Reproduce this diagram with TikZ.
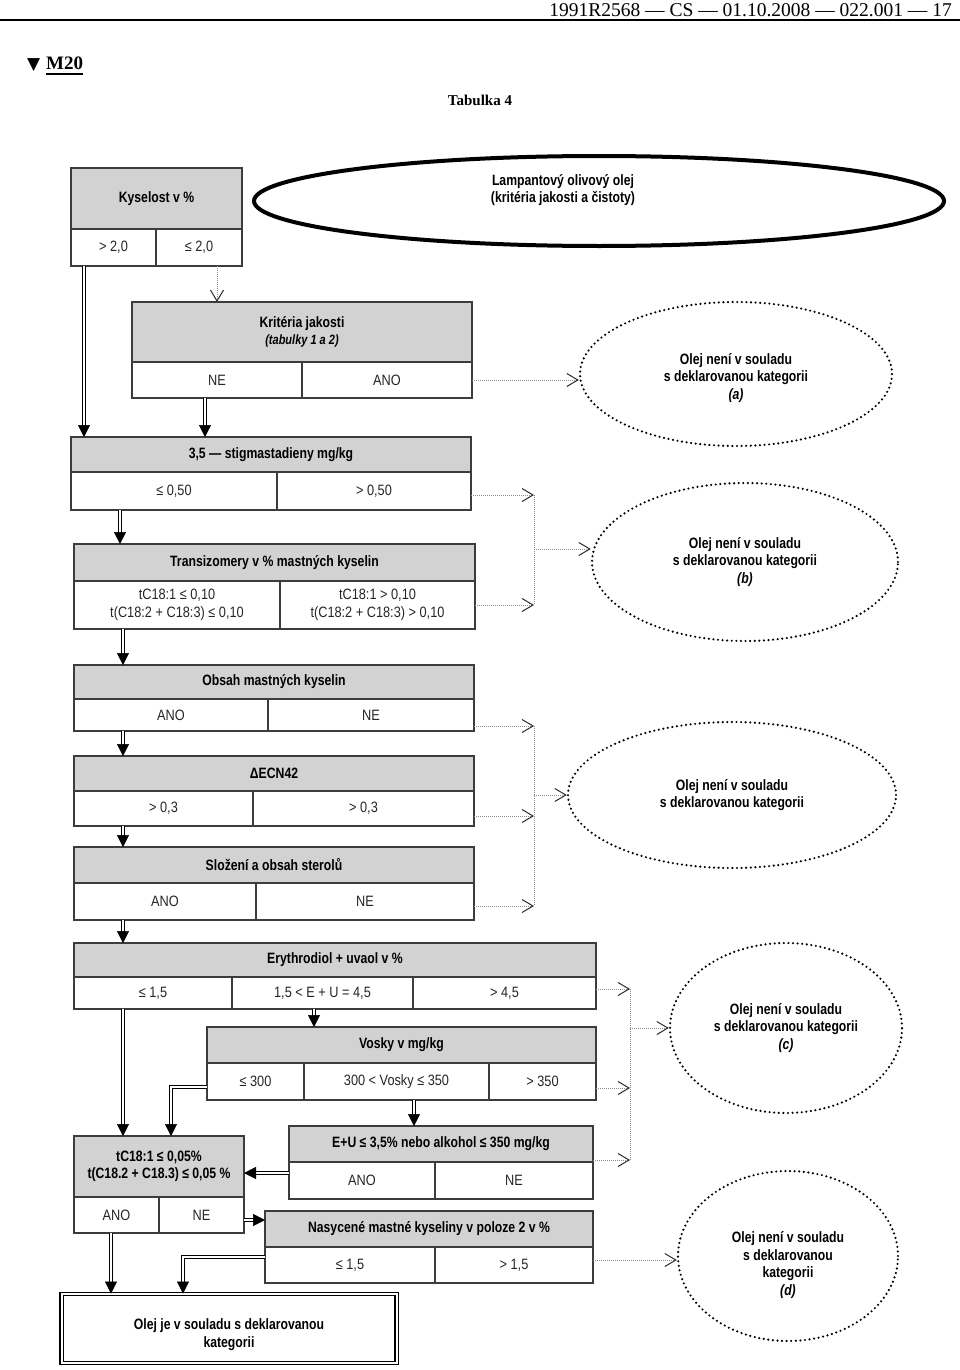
\documentclass[tikz,border=0pt]{standalone}
\usepackage{fontspec}
\setmainfont{Liberation Sans}[FakeStretch=0.85, BoldFeatures={FakeStretch=0.815}, BoldItalicFeatures={FakeStretch=0.815}]
\newfontfamily\serifhd{Liberation Serif}
\newfontfamily\symf{DejaVu Sans}
\usetikzlibrary{shapes.geometric,arrows.meta,calc}
\definecolor{hgray}{RGB}{210,210,210}
\definecolor{boxc}{RGB}{60,60,60}
\definecolor{dotcol}{RGB}{140,140,140}
\definecolor{tipc}{RGB}{45,45,45}
\tikzset{
 hdr/.style={draw=boxc, fill=hgray, line width=1.3pt, inner sep=0pt, outer sep=0pt, anchor=north west, font=\fontsize{15}{17.5}\selectfont\bfseries, align=center},
 cell/.style={draw=boxc, fill=white, line width=1.3pt, inner sep=0pt, outer sep=0pt, anchor=north west, font=\fontsize{15}{17.5}\selectfont, align=center, text=black!85},
 dbl/.style={draw=black, double=white, double distance=1.8pt, line width=1.2pt, shorten >=11pt},
 dtip/.style={-{Triangle[length=12pt,width=12pt]}, line width=0.5pt, draw=black},
 dotarr/.style={draw=dotcol, line width=1pt, densely dotted, -{Straight Barb[length=11pt,width=13pt,line width=1pt,color=tipc]}},
 dotl/.style={draw=dotcol, line width=1pt, densely dotted},
 oval/.style={ellipse, draw=black, line width=2.4pt, dash pattern=on 0pt off 4.6pt, line cap=round, inner sep=0pt, font=\fontsize{15}{17.5}\selectfont\bfseries, align=center},
 ovaltext/.style={font=\fontsize{15}{17.5}\selectfont\bfseries, align=center},
}
\newcommand\dnarr[3]{\draw[dbl] (#1 -| #3) -- (#2 -| #3); \draw[dtip] ([yshift=2pt]#2 -| #3) -- (#2 -| #3);}
\begin{document}
\begin{tikzpicture}[x=1pt,y=-1pt]
\useasboundingbox (0,0) rectangle (960,1370);
\fill[white] (0,0) rectangle (960,1370);

% page header
\node[anchor=base east, font=\serifhd\fontsize{19.5}{22}\selectfont, inner sep=0pt] (pghead) at (952,17) {1991R2568 — CS — 01.10.2008 — 022.001 — 17};
\draw[line width=1.5pt] (0,20) -- (960,20);
\node[anchor=base west, font=\symf\fontsize{17}{19}\selectfont, inner sep=0pt] (tri) at (27,70) {▼};
\node[anchor=base west, font=\serifhd\bfseries\fontsize{19}{22}\selectfont, inner sep=0pt] (m20) at (46,70) {M20};
\draw[line width=1.6pt] ([yshift=-4pt]m20.base west) -- ([yshift=-4pt]m20.base east);
\node[font=\serifhd\bfseries\fontsize{15}{18}\selectfont] (tab) at (480,100) {Tabulka 4};

% coordinates
\coordinate (x84) at (84,0);
\coordinate (x205) at (205,0);
\coordinate (x217) at (217,0);
\coordinate (x120) at (120,0);
\coordinate (x123) at (123,0);
\coordinate (x314) at (314,0);
\coordinate (x414) at (414,0);
\coordinate (x111) at (111,0);
\coordinate (x171) at (171,0);
\coordinate (x183) at (183,0);
\coordinate (j1) at (534,0);
\coordinate (j2) at (630,0);

% top
\node[hdr, minimum width=171pt, minimum height=61pt] (b1h) at (71,168) {Kyselost v \%};
\node[cell, minimum width=85pt, minimum height=37pt] (b1a) at (71,229) {> 2,0};
\node[cell, minimum width=86pt, minimum height=37pt] (b1b) at (156,229) {≤ 2,0};

\node[ellipse, draw=black, line width=4pt, minimum width=690pt, minimum height=90pt, inner sep=0pt] (lamp) at (599,201) {};
\node[font=\fontsize{15}{17}\selectfont\bfseries, align=center] (lampt) at (563,190) {Lampantový olivový olej\\(kritéria jakosti a čistoty)};

\node[hdr, minimum width=340pt, minimum height=60pt] (b2h) at (132,302) {Kritéria jakosti\\{\itshape\fontsize{13.5}{16}\selectfont (tabulky 1 a 2)}};
\node[cell, minimum width=170pt, minimum height=36pt] (b2a) at (132,362) {NE};
\node[cell, minimum width=170pt, minimum height=36pt] (b2b) at (302,362) {ANO};

\node[oval, minimum width=312pt, minimum height=144pt, label={[ovaltext, yshift=-4pt]center:{Olej není v souladu\\s deklarovanou kategorii\\{\itshape (a)}}}] (ela) at (736,374) {};

\node[hdr, minimum width=400pt, minimum height=35pt] (b3h) at (71,437) {3,5 — stigmastadieny mg/kg};
\node[cell, minimum width=206pt, minimum height=38pt] (b3a) at (71,472) {≤ 0,50};
\node[cell, minimum width=194pt, minimum height=38pt] (b3b) at (277,472) {> 0,50};

\node[hdr, minimum width=401pt, minimum height=37pt] (b4h) at (74,544) {Transizomery v \% mastných kyselin};
\node[cell, minimum width=206pt, minimum height=48pt] (b4a) at (74,581) {tC18:1 ≤ 0,10\\t(C18:2 + C18:3) ≤ 0,10};
\node[cell, minimum width=195pt, minimum height=48pt] (b4b) at (280,581) {tC18:1 > 0,10\\t(C18:2 + C18:3) > 0,10};

\node[oval, minimum width=306pt, minimum height=158pt] (elb) at (745,562) {Olej není v souladu\\s deklarovanou kategorii\\{\itshape (b)}};

\node[hdr, minimum width=400pt, minimum height=34pt] (b5h) at (74,665) {Obsah mastných kyselin};
\node[cell, minimum width=194pt, minimum height=32pt] (b5a) at (74,699) {ANO};
\node[cell, minimum width=206pt, minimum height=32pt] (b5b) at (268,699) {NE};

\node[hdr, minimum width=400pt, minimum height=35pt] (b6h) at (74,756) {ΔECN42};
\node[cell, minimum width=179pt, minimum height=35pt] (b6a) at (74,791) {> 0,3};
\node[cell, minimum width=221pt, minimum height=35pt] (b6b) at (253,791) {> 0,3};

\node[hdr, minimum width=400pt, minimum height=36pt] (b7h) at (74,847) {Složení a obsah sterolů};
\node[cell, minimum width=182pt, minimum height=37pt] (b7a) at (74,883) {ANO};
\node[cell, minimum width=218pt, minimum height=37pt] (b7b) at (256,883) {NE};

\node[oval, minimum width=328pt, minimum height=146pt] (elx) at (732,795) {Olej není v souladu\\s deklarovanou kategorii};

\node[hdr, minimum width=522pt, minimum height=34pt] (b8h) at (74,943) {Erythrodiol + uvaol v \%};
\node[cell, minimum width=158pt, minimum height=32pt] (b8a) at (74,977) {≤ 1,5};
\node[cell, minimum width=181pt, minimum height=32pt] (b8b) at (232,977) {1,5 < E + U = 4,5};
\node[cell, minimum width=183pt, minimum height=32pt] (b8c) at (413,977) {> 4,5};

\node[hdr, minimum width=389pt, minimum height=36pt] (b9h) at (207,1027) {Vosky v mg/kg};
\node[cell, minimum width=97pt, minimum height=37pt] (b9a) at (207,1063) {≤ 300};
\node[cell, minimum width=185pt, minimum height=37pt] (b9b) at (304,1063) {300 < Vosky ≤ 350};
\node[cell, minimum width=107pt, minimum height=37pt] (b9c) at (489,1063) {> 350};

\node[oval, minimum width=232pt, minimum height=170pt] (elc) at (786,1028) {Olej není v souladu\\s deklarovanou kategorii\\{\itshape (c)}};

\node[hdr, minimum width=170pt, minimum height=61pt] (b10h) at (74,1136) {tC18:1 ≤ 0,05\%\\t(C18.2 + C18.3) ≤ 0,05 \%};
\node[cell, minimum width=85pt, minimum height=36pt] (b10a) at (74,1197) {ANO};
\node[cell, minimum width=85pt, minimum height=36pt] (b10b) at (159,1197) {NE};

\node[hdr, minimum width=304pt, minimum height=36pt] (b11h) at (289,1126) {E+U ≤ 3,5\% nebo alkohol ≤ 350 mg/kg};
\node[cell, minimum width=146pt, minimum height=37pt] (b11a) at (289,1162) {ANO};
\node[cell, minimum width=158pt, minimum height=37pt] (b11b) at (435,1162) {NE};

\node[hdr, minimum width=328pt, minimum height=36pt] (b12h) at (265,1211) {Nasycené mastné kyseliny v poloze 2 v \%};
\node[cell, minimum width=170pt, minimum height=36pt] (b12a) at (265,1247) {≤ 1,5};
\node[cell, minimum width=158pt, minimum height=36pt] (b12b) at (435,1247) {> 1,5};

\node[oval, minimum width=220pt, minimum height=170pt, label={[ovaltext, yshift=-9pt]center:{Olej není v souladu\\s deklarovanou\\kategorii\\{\itshape (d)}}}] (eld) at (788,1256) {};

\node[draw=black, double=white, double distance=2pt, line width=1.2pt, minimum width=335pt, minimum height=68.6pt, inner sep=0pt, label={[ovaltext, yshift=-6pt]center:{Olej je v souladu s deklarovanou\\kategorii}}] (fin) at (229,1328.5) {};

% double arrows
\dnarr{b1a.south}{b3h.north}{x84}
\dnarr{b2a.south}{b3h.north}{x205}
\dnarr{b3a.south}{b4h.north}{x120}
\dnarr{b4a.south}{b5h.north}{x123}
\dnarr{b5a.south}{b6h.north}{x123}
\dnarr{b6a.south}{b7h.north}{x123}
\dnarr{b7a.south}{b8h.north}{x123}
\dnarr{b8b.south}{b9h.north}{x314}
\dnarr{b8a.south}{b10h.north}{x123}
\dnarr{b9b.south}{b11h.north}{x414}
\dnarr{b10a.south}{fin.north}{x111}

\coordinate (y10) at (0,1087);
\draw[dbl] (b9a.west |- y10) -- (x171 |- y10) -- (x171 |- b10h.north);
\draw[dtip] ([yshift=2pt]x171 |- b10h.north) -- (x171 |- b10h.north);

\coordinate (y15) at (0,1257);
\draw[dbl] (b12a.west |- y15) -- (x183 |- y15) -- (x183 |- fin.north);
\draw[dtip] ([yshift=2pt]x183 |- fin.north) -- (x183 |- fin.north);

\coordinate (y12) at (0,1173);
\draw[dbl] (b11a.west |- y12) -- (b10h.east |- y12);
\draw[dtip] ([xshift=2pt]b10h.east |- y12) -- (b10h.east |- y12);

\coordinate (y13) at (0,1220);
\draw[dbl] (b10b.east |- y13) -- (b12h.west |- y13);
\draw[dtip] ([xshift=-2pt]b12h.west |- y13) -- (b12h.west |- y13);

% dotted arrows
\draw[dotarr] (b1b.south -| x217) -- (b2h.north -| x217);
\draw[dotarr] (b2b.east) -- (b2b.east -| ela.west);

\coordinate (y3) at (0,495);
\coordinate (y4) at (0,605);
\coordinate (m1) at (534,549);
\draw[dotarr] (b3b.east |- y3) -- (j1 |- y3);
\draw[dotarr] (b4b.east |- y4) -- (j1 |- y4);
\draw[dotl] (j1 |- y3) -- (j1 |- y4);
\draw[dotarr] (m1) -- (m1 -| elb.west);

\coordinate (y6) at (0,726);
\coordinate (y7) at (0,816);
\coordinate (y8) at (0,906);
\draw[dotarr] (b5b.east |- y6) -- (j1 |- y6);
\draw[dotarr] (b6b.east |- y7) -- (j1 |- y7);
\draw[dotarr] (b7b.east |- y8) -- (j1 |- y8);
\draw[dotl] (j1 |- y6) -- (j1 |- y8);
\draw[dotarr] (j1 |- elx.west) -- (elx.west);

\coordinate (y20) at (0,989);
\coordinate (y21) at (0,1088);
\coordinate (y22) at (0,1160);
\draw[dotarr] (b8c.east |- y20) -- (j2 |- y20);
\draw[dotarr] (b9c.east |- y21) -- (j2 |- y21);
\draw[dotarr] (b11h.east |- y22) -- (j2 |- y22);
\draw[dotl] (j2 |- y20) -- (j2 |- y22);
\draw[dotarr] (j2 |- elc.west) -- (elc.west);

\coordinate (y14) at (0,1260);
\draw[dotarr] (b12b.east |- y14) -- (y14 -| eld.west);
\end{tikzpicture}
\end{document}
